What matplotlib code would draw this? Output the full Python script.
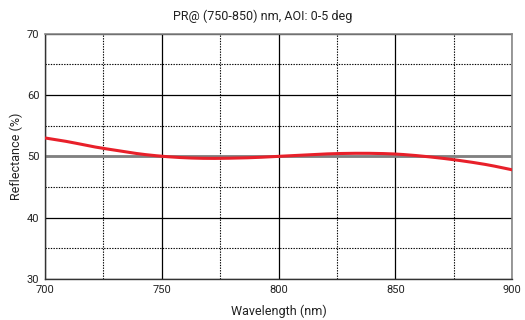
import matplotlib
matplotlib.use("Agg")
import matplotlib.pyplot as plt
import numpy as np

wavelength = [700, 710, 720, 730, 740, 750, 760, 770, 780, 790, 800,
              810, 820, 830, 840, 850, 860, 870, 880, 890, 900]
reflectance = [53.0, 52.4, 51.6, 51.0, 50.4, 50.0, 49.75, 49.65, 49.7, 49.8, 50.0,
               50.2, 50.4, 50.5, 50.5, 50.4, 50.1, 49.7, 49.2, 48.6, 47.8]
x_ticks = [700, 750, 800, 850, 900]
y_ticks = [30, 40, 50, 60, 70]
title = "PR@ (750-850) nm, AOI: 0-5 deg"

plt.rcParams['font.family'] = ['Roboto', 'DejaVu Sans']

fig = plt.figure(figsize=(5.25, 3.2), dpi=100)
ax = fig.add_axes([45/525, 1 - 279/320, (512.3 - 45)/525, (279 - 33.7)/320])

ax.set_xlim(700, 900)
ax.set_ylim(30, 70)
ax.set_xticks(x_ticks)
ax.set_yticks(y_ticks)
ax.set_xticks([725, 775, 825, 875], minor=True)
ax.set_yticks([35, 45, 55, 65], minor=True)
ax.grid(which='major', color='black', linewidth=0.9, linestyle='-')
ax.grid(which='minor', color='black', linewidth=0.8, linestyle=(0, (1.2, 1.2)))
ax.tick_params(which='both', length=0, labelsize=8, pad=4, colors='#222222')
ax.set_axisbelow(True)

ax.axhline(50, color='#808080', linewidth=2, zorder=2)

xs = np.array(wavelength, dtype=float)
ys = np.array(reflectance, dtype=float)
xf = np.linspace(700, 900, 400)
yf = np.interp(xf, xs, ys)
k = 9
pad = np.pad(yf, k, mode='reflect', reflect_type='odd')
yf = np.convolve(pad, np.ones(2*k+1)/(2*k+1), mode='same')[k:-k]
ax.plot(xf, yf, color='#e8202a', linewidth=2.2, zorder=3, solid_capstyle='butt')

for s in ['top', 'right']:
    ax.spines[s].set_color('#888888')
    ax.spines[s].set_linewidth(1.2)
for s in ['left', 'bottom']:
    ax.spines[s].set_color('#333333')
    ax.spines[s].set_linewidth(1.0)

ax.set_xlabel('Wavelength (nm)', fontsize=9, labelpad=7, color='#222222')
ax.set_ylabel('Reflectance (%)', fontsize=9, labelpad=3, color='#222222')
fig.text(0.5, 1 - 16/320, title, ha='center', va='center', fontsize=9, color='#222222')

fig.savefig('out.png', dpi=100)
